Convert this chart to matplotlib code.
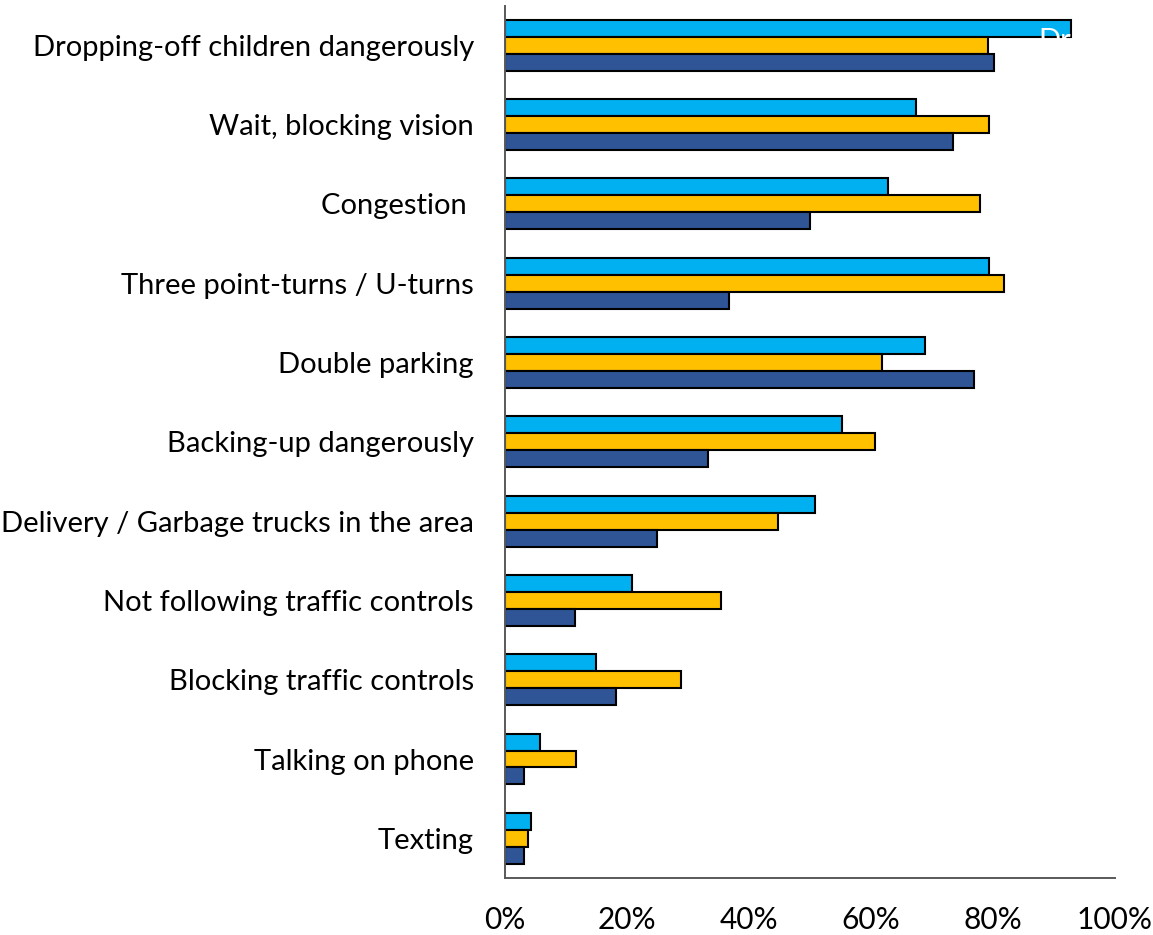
import numpy as np
import matplotlib
matplotlib.use("Agg")
import matplotlib.pyplot as plt
from matplotlib.ticker import PercentFormatter

plt.rcParams['font.family'] = ['Lato', 'DejaVu Sans']

categories = [
    "Dropping-off children dangerously",
    "Wait, blocking vision",
    "Congestion ",
    "Three point-turns / U-turns",
    "Double parking",
    "Backing-up dangerously",
    "Delivery / Garbage trucks in the area",
    "Not following traffic controls",
    "Blocking traffic controls",
    "Talking on phone",
    "Texting",
]

# shares per behaviour, in percent
light_blue = [92.8, 67.4, 62.8, 79.3, 68.9, 55.2, 50.8, 20.8, 14.9, 5.7, 4.3]
gold = [79.2, 79.3, 77.9, 81.8, 61.8, 60.7, 44.8, 35.4, 28.9, 11.6, 3.8]
dark_blue = [80.2, 73.4, 50.0, 36.7, 76.9, 33.3, 24.9, 11.5, 18.2, 3.1, 3.1]

xticks = [0, 20, 40, 60, 80, 100]

fig = plt.figure(figsize=(11.53, 9.35), dpi=100)
ax = fig.add_axes([0.438, 0.061, 0.529, 0.933])

y = np.arange(len(categories))
h = 0.214
series = [(light_blue, "#00B0F0", -h), (gold, "#FFC000", 0), (dark_blue, "#2F5597", h)]
for vals, col, off in series:
    ax.barh(y + off, vals, height=h, color=col, edgecolor="black", linewidth=1.5, zorder=2)

# legend label sitting in white over the top bar
ax.text(87.5, -0.05, "Drivers", color="white", fontsize=21, va="center", ha="left", zorder=3)

ax.set_ylim(len(categories) - 0.5, -0.5)
ax.set_xlim(0, 100)
ax.set_yticks(y)
ax.set_yticklabels(categories, fontsize=21)
ax.set_xticks(xticks)
ax.xaxis.set_major_formatter(PercentFormatter(decimals=0))
ax.tick_params(axis="x", length=0, pad=20.5, labelsize=21.5)
ax.tick_params(axis="y", length=0, pad=22.5)

for side in ["top", "right"]:
    ax.spines[side].set_visible(False)
for side in ["left", "bottom"]:
    ax.spines[side].set_color("#595959")
    ax.spines[side].set_linewidth(1.4)

fig.savefig("out.png", dpi=100)
